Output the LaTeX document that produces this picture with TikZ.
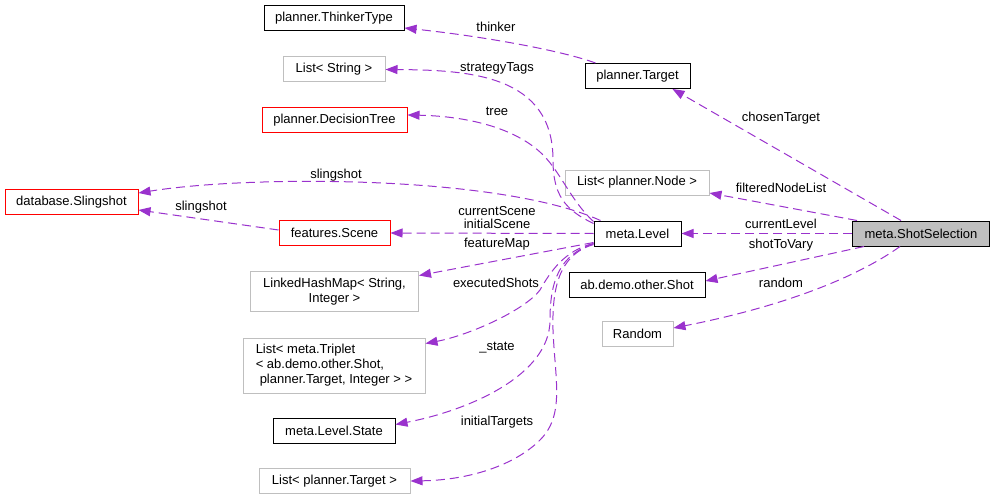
\documentclass[tikz,border=0pt]{standalone}
\usepackage{fontspec}
\setmainfont{Liberation Sans}
\usetikzlibrary{arrows.meta}
\definecolor{edgec}{HTML}{9A32CD}
\definecolor{grayb}{HTML}{BFBFBF}
\newcommand{\fs}{\fontsize{13}{15}\selectfont}
\tikzset{
  box/.style={draw=black, line width=1pt, minimum height=25pt, inner sep=2pt, font=\fs, fill=white},
  gbox/.style={box, draw=grayb},
  rbox/.style={box, draw=red},
  edge/.style={draw=edgec, line width=1pt, dash pattern=on 9pt off 5pt,
     -{Triangle[length=12pt,width=9pt,fill=edgec]}},
  lab/.style={font=\fs, inner sep=1pt}
}
\begin{document}
\begin{tikzpicture}[x=1pt,y=-1pt]
\useasboundingbox (0,0) rectangle (995,500);
% nodes
\node[box, minimum width=140pt] (tt) at (334,18.5) {planner.ThinkerType};
\node[gbox, minimum width=102pt] (ls) at (334,69.5) {List< String >};
\node[rbox, minimum width=145pt] (dt) at (334.5,120) {planner.DecisionTree};
\node[rbox, minimum width=133pt] (sl) at (71.5,202) {database.Slingshot};
\node[rbox, minimum width=111pt] (sc) at (334.5,233) {features.Scene};
\node[gbox, minimum width=168pt, minimum height=40pt, align=center] (lhm) at (334.5,291.5) {LinkedHashMap< String,\\Integer >};
\node[gbox, minimum width=182pt, minimum height=55pt, align=left] (tri) at (334,365.5) {List< meta.Triplet\\< ab.demo.other.Shot,\\\hspace*{4pt}planner.Target, Integer > >};
\node[box, minimum width=122pt] (st) at (334,430.5) {meta.Level.State};
\node[gbox, minimum width=151pt] (lt) at (334.5,481) {List< planner.Target >};
\node[box, minimum width=105pt] (tg) at (637.5,76) {planner.Target};
\node[gbox, minimum width=144pt] (ln) at (637,182.5) {List< planner.Node >};
\node[box, minimum width=87pt] (lv) at (637.5,233.5) {meta.Level};
\node[box, minimum width=136pt] (sh) at (637,284.5) {ab.demo.other.Shot};
\node[gbox, minimum width=71pt] (rn) at (637.5,334) {Random};
\node[box, fill=grayb, minimum width=137pt] (ss) at (921,233.5) {meta.ShotSelection};
% edges from ShotSelection
\draw[edge] ([xshift=-20pt]ss.north) -- ([xshift=35pt]tg.south);
\draw[edge] ([xshift=-64pt]ss.north) -- ([yshift=-10.5pt]ln.east);
\draw[edge] (ss.west) -- (lv.east);
\draw[edge] ([xshift=-57pt]ss.south) -- ([yshift=3.5pt]sh.east);
\draw[edge] ([xshift=-21pt]ss.south) .. controls (860,275) and (790,305) .. ([yshift=6pt]rn.east);
% Target -> ThinkerType
\draw[edge] ([xshift=-42pt]tg.north) .. controls (560,50) and (480,36) .. ([yshift=-9.5pt]tt.east);
% edges from Level
\draw[edge] ([yshift=-3pt]lv.north west) .. controls (565,210) and (553,195) .. (553,160) .. controls (553,75) and (470,70) .. (ls.east);
\draw[edge] ([yshift=-1pt]lv.north west) .. controls (570,200) and (560,170) .. (540,152) .. controls (510,125) and (460,116) .. ([yshift=5pt]dt.east);
\draw[edge] ([xshift=-37pt]lv.north) .. controls (500,175) and (250,175) .. ([yshift=9pt]sl.east);
\draw[edge] ([yshift=3pt]sc.west) -- ([yshift=-8pt]sl.east);
\draw[edge] (lv.west) -- (sc.east);
\draw[edge] ([yshift=-9pt]lv.west) -- ([yshift=16pt]lhm.east);
\draw[edge] ([yshift=-10pt]lv.west) .. controls (565,250) and (550,272) .. (540,290) .. controls (525,310) and (470,335) .. ([yshift=22pt]tri.east);
\draw[edge] ([yshift=-10pt]lv.west) .. controls (560,255) and (550,280) .. (550,320) .. controls (550,375) and (470,410) .. ([yshift=6pt]st.east);
\draw[edge] ([yshift=-11pt]lv.west) .. controls (558,255) and (552,290) .. (553,330) .. controls (555,380) and (565,415) .. (540,440) .. controls (515,465) and (470,480) .. (lt.east);
% labels
\node[lab] (l1) at (496,27) {thinker};
\node[lab] (l2) at (497,68) {strategyTags};
\node[lab] (l3) at (497,111) {tree};
\node[lab] (l4) at (336,175) {slingshot};
\node[lab] (l5) at (201,207) {slingshot};
\node[lab, align=center, font=\fontsize{13}{13.6}\selectfont] (l6) at (497,217.5) {currentScene\\initialScene};
\node[lab] (l7) at (497,244) {featureMap};
\node[lab] (l8) at (496,283) {executedShots};
\node[lab] (l9) at (497,348) {\_state};
\node[lab] (l10) at (497,422) {initialTargets};
\node[lab] (l11) at (781,118) {chosenTarget};
\node[lab] (l12) at (781,188) {filteredNodeList};
\node[lab] (l13) at (781,224) {currentLevel};
\node[lab] (l14) at (781,245) {shotToVary};
\node[lab] (l15) at (781,283) {random};
\end{tikzpicture}
\end{document}
